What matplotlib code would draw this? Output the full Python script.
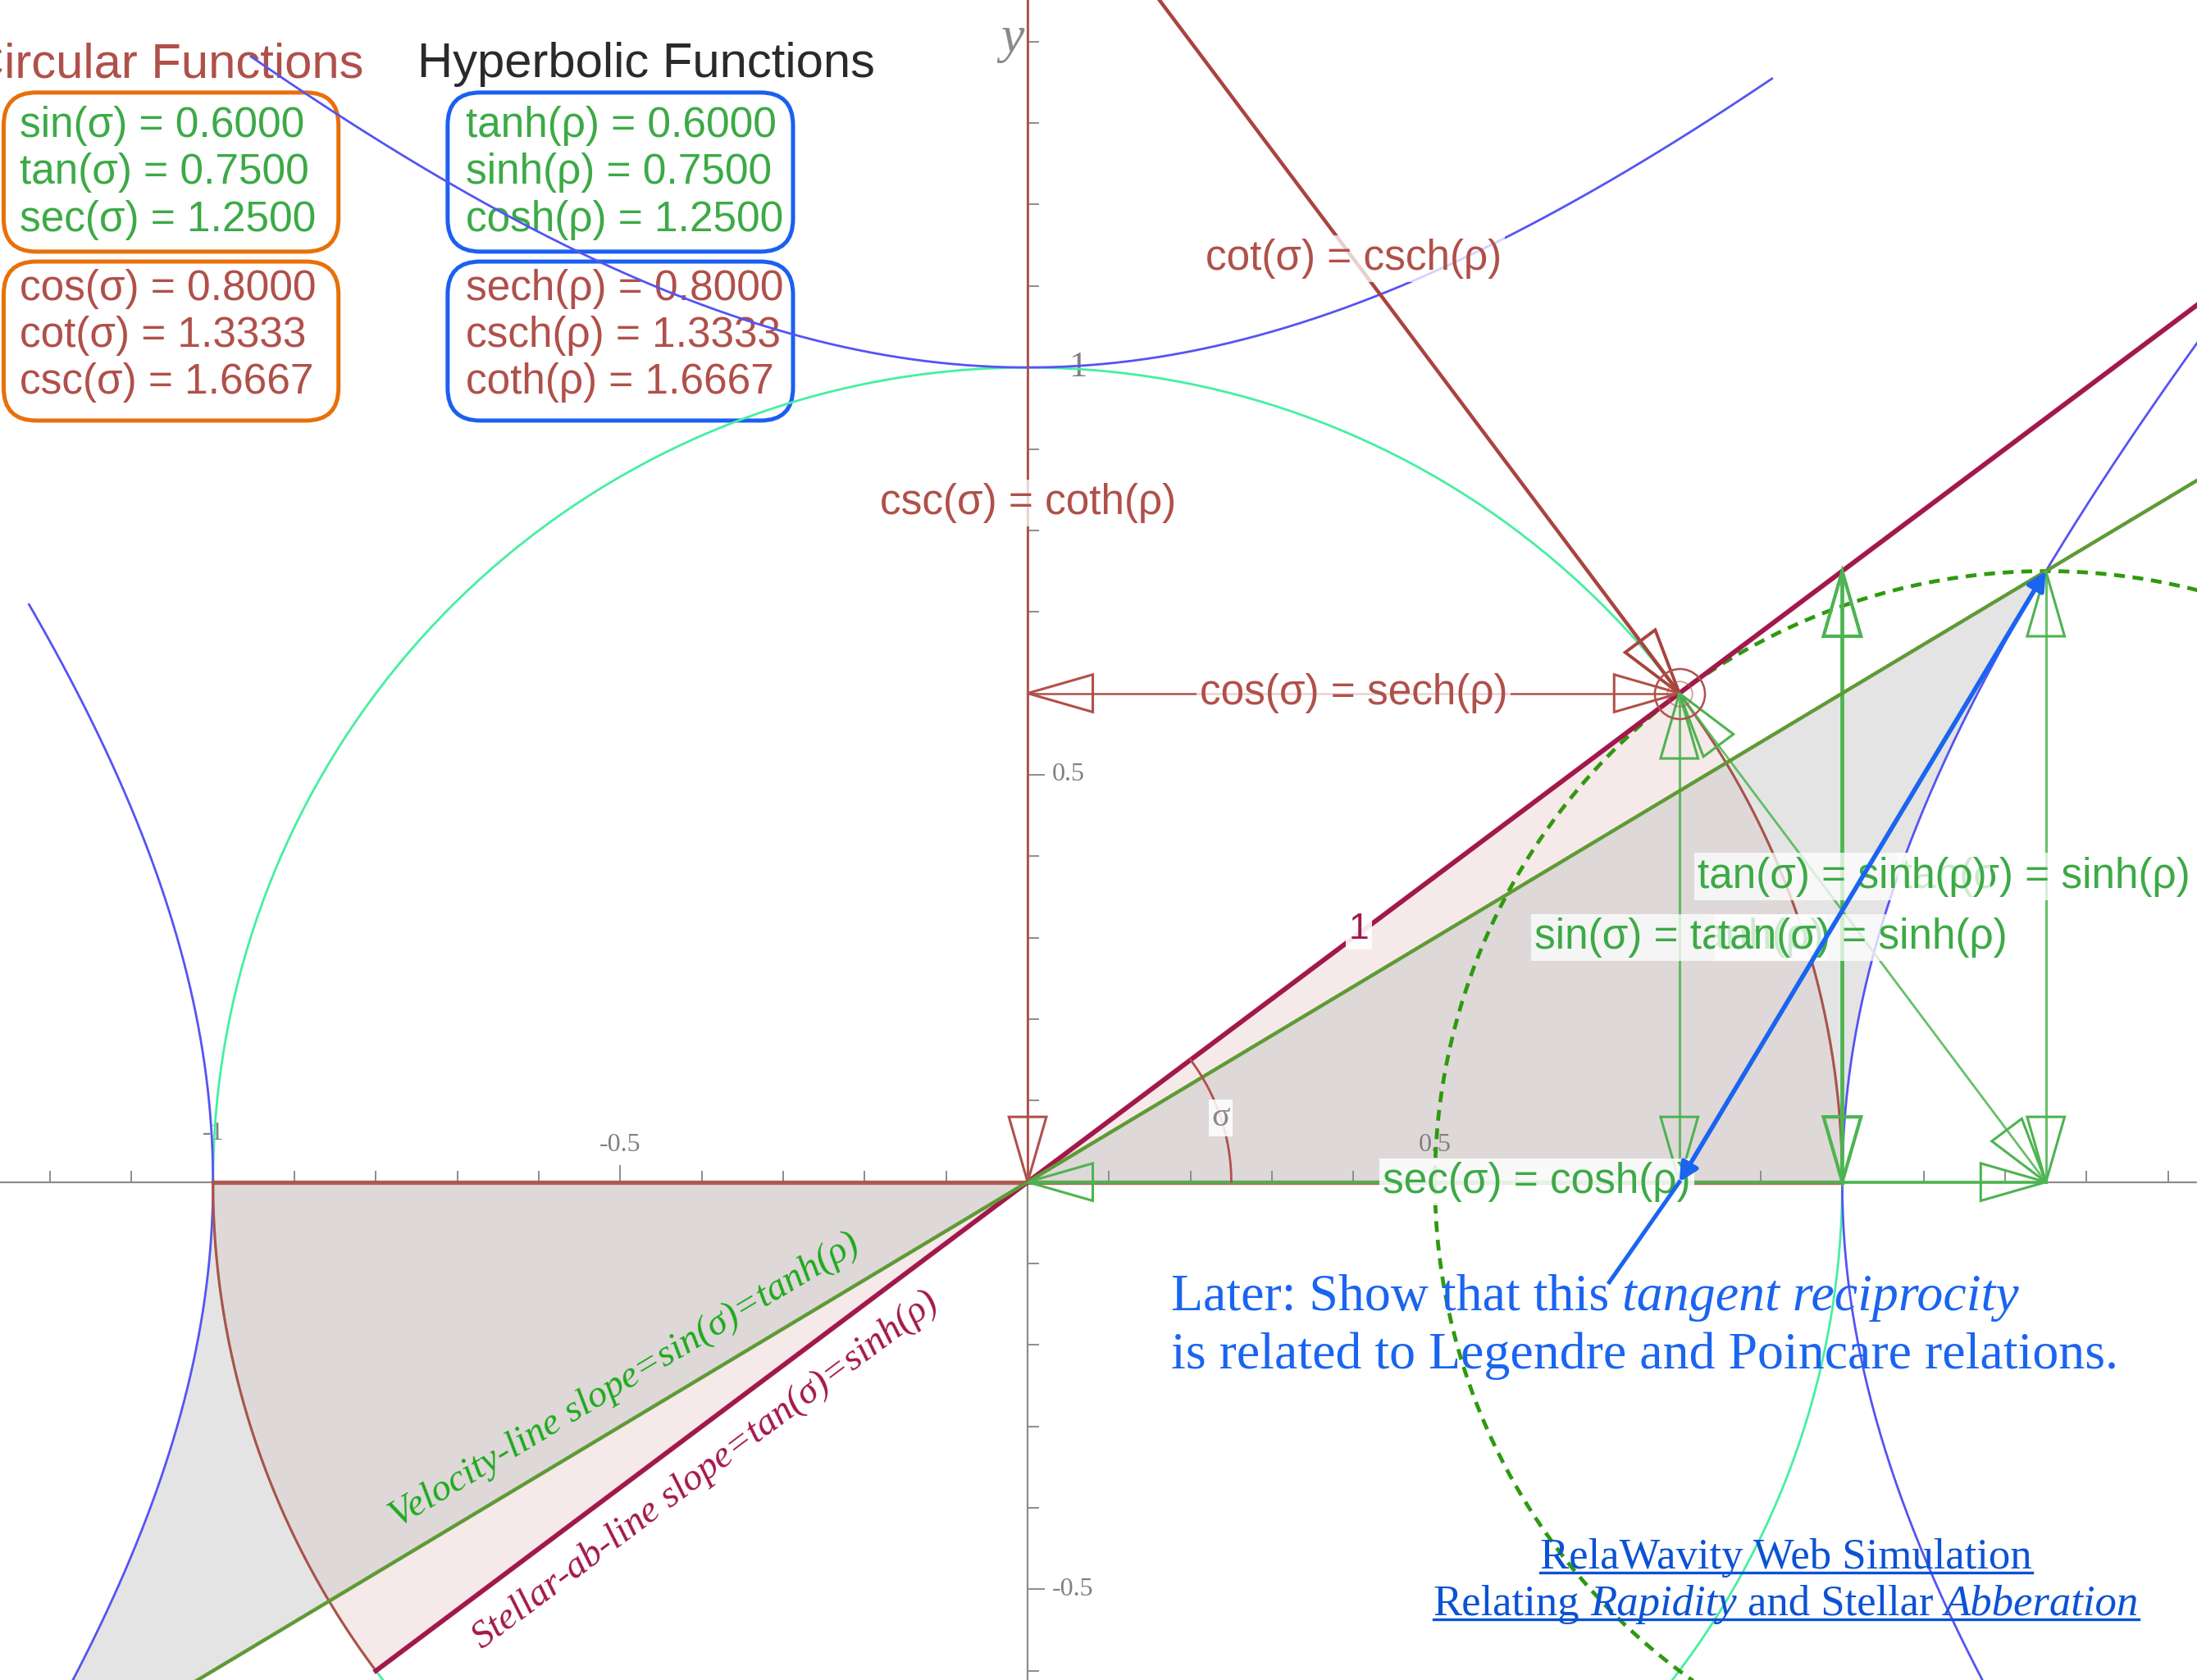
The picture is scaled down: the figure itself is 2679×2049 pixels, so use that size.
import numpy as np
import matplotlib
matplotlib.use('Agg')
import matplotlib.pyplot as plt
from matplotlib.patches import FancyBboxPatch, Polygon, FancyArrowPatch
from matplotlib.lines import Line2D
from matplotlib.ticker import MultipleLocator
from matplotlib.transforms import IdentityTransform

plt.rcParams['font.family'] = ['Liberation Sans', 'DejaVu Sans']

# circular / hyperbolic function values (sigma and rho linked by tanh(rho)=sin(sigma))
circ_names = ['sin(σ)', 'tan(σ)', 'sec(σ)', 'cos(σ)', 'cot(σ)', 'csc(σ)']
hyp_names = ['tanh(ρ)', 'sinh(ρ)', 'cosh(ρ)', 'sech(ρ)', 'csch(ρ)', 'coth(ρ)']
func_vals = [0.6000, 0.7500, 1.2500, 0.8000, 1.3333, 1.6667]
sin_s, tan_s, sec_s, cos_s, cot_s, csc_s = func_vals
sigma = np.arctan2(sin_s, cos_s)
rho = np.arcsinh(tan_s)

# axis labels
xtick_vals = [-1, -0.5, 0.5]
xtick_text = ['-1', '-0.5', '0.5']
ytick_vals = [1, 0.5, -0.5]
ytick_text = ['1', '0.5', '-0.5']

# parameter ranges of the drawn hyperbola pieces
right_branch_t = (-0.85, 1.0)
left_branch_t = (-0.85, 0.66)
conj_branch_t = (-0.848, 0.819)

BROWN = '#b0504a'
DKBROWN = '#a8443e'
CRIMSON = '#a3184c'
OLIVE = '#5e9b34'
GREEN = '#4cb450'
GTEXT = '#3caa46'
VIOLET = '#5454f4'
MINT = '#44f0a0'
BLUE = '#1a64f0'
LINK = '#0b52d4'

fig = plt.figure(figsize=(26.79, 20.49), dpi=100)
ax = fig.add_axes([0, 0, 1, 1])
ax.set_xlim(-1.2615, 1.4355)
ax.set_ylim(-0.6113, 1.4511)

for side in ['top', 'right']:
    ax.spines[side].set_visible(False)
for side in ['left', 'bottom']:
    ax.spines[side].set_position(('data', 0))
    ax.spines[side].set_color('#8c8c8c')
    ax.spines[side].set_linewidth(1.6)
    ax.spines[side].set_zorder(2)
for axis in [ax.xaxis, ax.yaxis]:
    axis.set_major_locator(MultipleLocator(0.5))
    axis.set_minor_locator(MultipleLocator(0.1))
ax.tick_params(which='both', direction='in', color='#8c8c8c', width=1.4,
               labelbottom=False, labelleft=False)
ax.tick_params(which='major', length=15)
ax.tick_params(which='minor', length=10)

for v, s in zip(xtick_vals, xtick_text):
    ax.text(v, 0.06 if v == -1 else 0.045, s, fontsize=23, color='#808080',
            family='Liberation Serif', ha='center', va='center')
for v, s in zip(ytick_vals, ytick_text):
    big = v == 1
    ax.text(0.05 if big else 0.03, v, s, fontsize=32 if big else 23, color='#808080',
            family='Liberation Serif', ha='left', va='center')
ax.text(-0.004, 1.403, 'y', fontsize=46, color='#8a8a8a', family='Liberation Serif',
        style='italic', ha='right', va='center')

# shaded sectors: circular (pink) and hyperbolic (grey, translucent)
t = np.linspace(0, sigma, 120)
sx = np.r_[0, np.cos(t)]
sy = np.r_[0, np.sin(t)]
u = np.linspace(0, rho, 120)
hx = np.r_[0, np.cosh(u)]
hy = np.r_[0, np.sinh(u)]
for k in [1, -1]:
    ax.fill(k * sx, k * sy, color='#f6e9e9', lw=0, zorder=1)
    ax.fill(k * hx, k * hy, color='#c4c4c4', alpha=0.45, lw=0, zorder=1.1)

# unit circle and hyperbolas
th = np.linspace(0, 2 * np.pi, 600)
ax.plot(np.cos(th), np.sin(th), color=MINT, lw=2.0, zorder=3)
for k in [0, np.pi]:
    ax.plot(np.cos(t + k), np.sin(t + k), color=BROWN, lw=2.2, zorder=3.5)
tr = np.linspace(*right_branch_t, 300)
ax.plot(np.cosh(tr), np.sinh(tr), color=VIOLET, lw=2.0, zorder=3)
tl = np.linspace(*left_branch_t, 300)
ax.plot(-np.cosh(tl), np.sinh(tl), color=VIOLET, lw=2.0, zorder=3)
tc = np.linspace(*conj_branch_t, 300)
ax.plot(np.sinh(tc), np.cosh(tc), color=VIOLET, lw=2.0, zorder=3)

# dashed circle about (sec, 0) of radius tan
ax.plot(sec_s + tan_s * np.cos(th), tan_s * np.sin(th), color='#2e9a0e', lw=3.4,
        dashes=(2.8, 2.0), zorder=4)

# brown (circular) segments
ax.plot([-1, 1], [0, 0], color=BROWN, lw=3.8, alpha=0.9, zorder=3.6)
ax.plot([0, 0], [0, csc_s], color=BROWN, lw=2.0, zorder=4)
ax.plot([0, cos_s], [sin_s, sin_s], color=BROWN, lw=1.8, zorder=4)
ax.plot([0, cos_s], [csc_s, sin_s], color=DKBROWN, lw=3.2, zorder=5)

# green segments
ax.plot([0, sec_s], [0, 0], color=GREEN, lw=2.6, zorder=4.2)
ax.plot([cos_s, cos_s], [0, sin_s], color=GREEN, lw=2.2, alpha=0.85, zorder=4.2)
ax.plot([1, 1], [0, tan_s], color=GREEN, lw=3.4, zorder=4.2)
ax.plot([sec_s, sec_s], [0, tan_s], color=GREEN, lw=2.2, alpha=0.85, zorder=4.2)
ax.plot([cos_s, sec_s], [sin_s, 0], color=GREEN, lw=2.0, alpha=0.85, zorder=4.2)

# stellar-aberration line and velocity line
ax.plot([-cos_s, 1.5], [-sin_s, 1.5 * tan_s], color=CRIMSON, lw=4.2, zorder=6)
ax.plot([-1.4, 1.5], [-1.4 * sin_s, 1.5 * sin_s], color=OLIVE, lw=3.2, zorder=6)


def hollow_head(tip, frm, color, length=0.08, width=0.046, lw=2.2, z=6.5):
    tip = np.asarray(tip, float)
    d = tip - np.asarray(frm, float)
    d /= np.hypot(*d)
    n = np.array([-d[1], d[0]])
    base = tip - d * length
    ax.add_patch(Polygon([tip, base + n * width / 2, base - n * width / 2],
                         closed=True, fill=False, edgecolor=color, lw=lw, zorder=z))


hollow_head((cos_s, sin_s), (0, csc_s), DKBROWN, lw=2.8)
hollow_head((0, 0), (0, csc_s), BROWN)
hollow_head((0, sin_s), (cos_s, sin_s), BROWN)
hollow_head((cos_s, sin_s), (0, sin_s), BROWN)
hollow_head((0, 0), (sec_s, 0), GREEN)
hollow_head((sec_s, 0), (0, 0), GREEN)
hollow_head((cos_s, sin_s), (cos_s, 0), GREEN)
hollow_head((cos_s, 0), (cos_s, sin_s), GREEN)
hollow_head((1, tan_s), (1, 0), GREEN, lw=3.0)
hollow_head((1, 0), (1, tan_s), GREEN, lw=3.0)
hollow_head((sec_s, tan_s), (sec_s, 0), GREEN)
hollow_head((sec_s, 0), (sec_s, tan_s), GREEN)
hollow_head((cos_s, sin_s), (sec_s, 0), GREEN)
hollow_head((sec_s, 0), (cos_s, sin_s), GREEN)

ax.plot(cos_s, sin_s, 'o', ms=44, mfc='none', mec=BROWN, mew=1.8, zorder=7)
ax.plot(cos_s, sin_s, 'o', ms=22, mfc='none', mec=BROWN, mew=1.2, alpha=0.6, zorder=7)

# angle arc
ta = np.linspace(0, sigma, 60)
ax.plot(0.25 * np.cos(ta), 0.25 * np.sin(ta), color=BROWN, lw=2.0, zorder=6)

# blue tangent-reciprocity arrow and its pointer
ax.add_patch(FancyArrowPatch((cos_s, 0), (sec_s, tan_s), arrowstyle='<|-|>',
                             mutation_scale=34, color=BLUE, lw=4.0,
                             shrinkA=0, shrinkB=0, zorder=9))
ax.plot([cos_s, 0.714], [0, -0.123], color=BLUE, lw=3.6, zorder=9)


def label(x, y, s, color, size=37, alpha=0.75, z=8, family='Liberation Sans'):
    ax.text(x, y, s, color=color, fontsize=size, family=family, ha='center',
            va='center', zorder=z,
            bbox=dict(boxstyle='square,pad=0.08', fc='white', ec='none', alpha=alpha))


label(cos_s / 2, (csc_s + sin_s) / 2, 'cot(σ) = csch(ρ)', BROWN)
label(0, csc_s / 2, 'csc(σ) = coth(ρ)', BROWN)
label(cos_s / 2, sin_s, 'cos(σ) = sech(ρ)', BROWN)
label(sec_s / 2, 0, 'sec(σ) = cosh(ρ)', GTEXT, alpha=0.85)
label(sec_s, tan_s / 2, 'tan(σ) = sinh(ρ)', GTEXT, z=8.1)
label(1, tan_s / 2, 'tan(σ) = sinh(ρ)', GTEXT, z=8.2)
label(cos_s, sin_s / 2, 'sin(σ) = tanh(ρ)', GTEXT, z=8.1)
label((cos_s + sec_s) / 2, sin_s / 2, 'tan(σ) = sinh(ρ)', GTEXT, z=8.2)
label(0.25 * np.cos(sigma / 2), 0.25 * np.sin(sigma / 2), 'σ', '#888888', size=30,
      alpha=0.85, family='Liberation Serif')
label(cos_s / 2 + 0.007, sin_s / 2 + 0.01, '1', CRIMSON, size=32, alpha=0.9)

ang_v = np.degrees(np.arctan(sin_s))
ang_s = np.degrees(np.arctan(tan_s))
ax.text(-0.495, -0.244, 'Velocity-line slope=sin(σ)=tanh(ρ)', color='#1eaa1e',
        fontsize=34, family='Liberation Serif', style='italic', rotation=ang_v,
        rotation_mode='anchor', ha='center', va='center', zorder=7)
ax.text(-0.395, -0.354, 'Stellar-ab-line slope=tan(σ)=sinh(ρ)', color=CRIMSON,
        fontsize=34, family='Liberation Serif', style='italic', rotation=ang_s,
        rotation_mode='anchor', ha='center', va='center', zorder=7)

# value tables in the upper left
ax.text(-0.815, 1.356, 'Circular Functions', color=BROWN, fontsize=43,
        ha='right', va='baseline', zorder=0.5)
ax.text(-0.749, 1.356, 'Hyperbolic Functions', color='#2a2a2a', fontsize=43,
        ha='left', va='baseline', zorder=0.5)
box_x = [(-1.257, -0.846), (-0.712, -0.288)]
box_y = [(1.1422, 1.3375), (0.9348, 1.1300)]
box_ec = ['#e8700a', '#1a60f0']
text_x = [-1.2375, -0.6895]
for col, names in enumerate([circ_names, hyp_names]):
    for grp in range(2):
        x0, x1 = box_x[col]
        y0, y1 = box_y[grp]
        ax.add_patch(FancyBboxPatch((x0, y0), x1 - x0, y1 - y0,
                                    boxstyle='round,pad=0,rounding_size=0.04',
                                    fc='none', ec=box_ec[col], lw=3.6, zorder=0.5))
        for row in range(3):
            i = grp * 3 + row
            ax.text(text_x[col], 1.283 - grp * 0.2 - row * 0.0577,
                    f'{names[i]} = {func_vals[i]:.4f}',
                    color=GTEXT if grp == 0 else BROWN, fontsize=37,
                    ha='left', va='baseline', zorder=0.5)

# serif notes with italic runs and underlined links
renderer = fig.canvas.get_renderer()


def rich_line(x, y, parts, size, color, align='left', underline=False):
    px, py = ax.transData.transform((x, y))
    arts = []
    probe = ax.text(0, 0, 'x x', fontsize=size, family='Liberation Serif',
                    transform=IdentityTransform())
    probe2 = ax.text(0, 0, 'xx', fontsize=size, family='Liberation Serif',
                     transform=IdentityTransform())
    gap = (probe.get_window_extent(renderer).width
           - probe2.get_window_extent(renderer).width)
    probe.remove()
    probe2.remove()
    widths = []
    for s, style in parts:
        a = ax.text(0, py, s, fontsize=size, family='Liberation Serif', style=style,
                    color=color, ha='left', va='baseline',
                    transform=IdentityTransform(), zorder=9)
        arts.append(a)
        widths.append(a.get_window_extent(renderer).width)
    total = sum(widths) + gap * (len(parts) - 1)
    cx = px - total / 2 if align == 'center' else px
    start = cx
    for a, w in zip(arts, widths):
        a.set_x(cx)
        cx += w + gap
    if underline:
        ax.add_line(Line2D([start, start + total], [py - 5, py - 5], color=color,
                           lw=2.4, transform=IdentityTransform(), zorder=9))


rich_line(0.1764, -0.1576, [('Later: Show that this', 'normal'),
                            ('tangent reciprocity', 'italic')], 46, BLUE)
rich_line(0.1764, -0.2285, [('is related to Legendre and Poincare relations.', 'normal')],
          46, BLUE)
rich_line(0.931, -0.4745, [('RelaWavity Web Simulation', 'normal')], 38, LINK,
          align='center', underline=True)
rich_line(0.931, -0.5315, [('Relating', 'normal'), ('Rapidity', 'italic'),
                           ('and Stellar', 'normal'), ('Abberation', 'italic')],
          38, LINK, align='center', underline=True)

fig.savefig('out.png', dpi=100, facecolor='white')
